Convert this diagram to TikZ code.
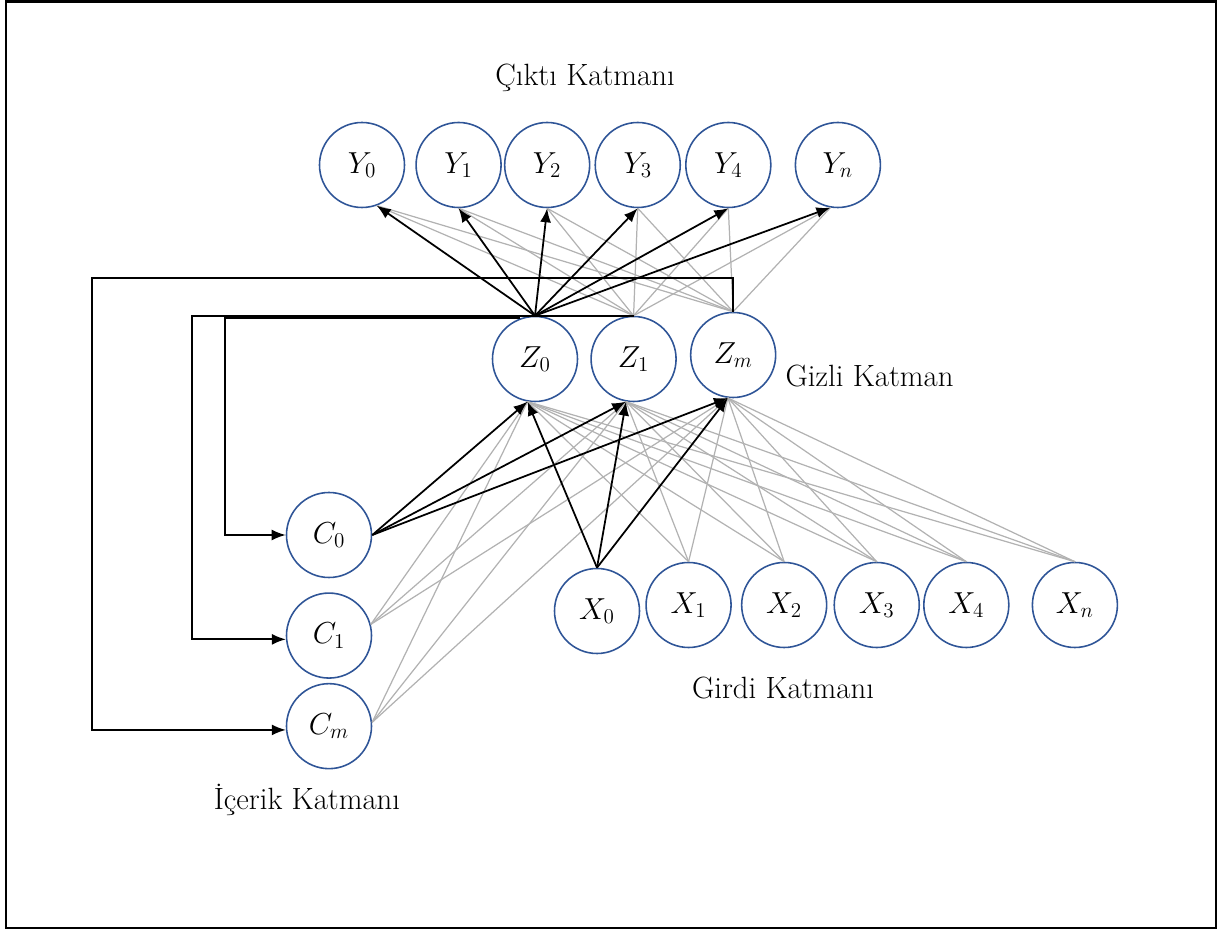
\documentclass[tikz,border=0pt]{standalone}
\usepackage{tikz}
\usetikzlibrary{
	arrows.meta,positioning,calc
}
\definecolor{nodeblue}{RGB}{47,85,151}
\tikzset{
	>={Latex[length=2.8mm,width=2.2mm]},
	neuron/.style={
		circle, minimum size=1.7cm, inner sep=0pt,
		draw=nodeblue, line width=0.9pt
	},
	%
	weight/.style={
		draw=black!30, line width=0.7pt
	},
	%
	mainweight/.style={
		->, draw=black, line width=1pt
	},
	%
	feedback/.style={
		->, draw=black, line width=1pt
	}
}

\begin{document}
\begin{tikzpicture}[font=\fontsize{17.5}{21}\selectfont]
    \useasboundingbox (0,0) rectangle (24.64,-18.66);
    \draw[line width=1.5pt] (0.12,-0.03) rectangle (24.32,-18.56);
    % output layer
    \node(Y0)[neuron] at (7.24,-3.30){$Y_0$};
    \node(Y1)[neuron, right=0.20cm of Y0]{$Y_1$};
    \node(Y2)[neuron, right=0.04cm of Y1]{$Y_2$};
    \node(Y3)[neuron, right=0.08cm of Y2]{$Y_3$};
    \node(Y4)[neuron, right=0.08cm of Y3]{$Y_4$};
    \node(Yn)[neuron, right=0.46cm of Y4]{$Y_n$};
    \node(outlbl) at (11.70,-1.56){Çıktı Katmanı};
    % hidden layer
    \node(Z0)[neuron] at (10.70,-7.18){$Z_0$};
    \node(Z1)[neuron, right=0.24cm of Z0]{$Z_1$};
    \node(Zm)[neuron, right=0.26cm of Z1, yshift=0.08cm]{$Z_m$};
    \node(hidlbl)[right=0.06cm of Zm, yshift=-0.42cm]{Gizli Katman};
    % context layer
    \node(C0)[neuron] at (6.58,-10.70){$C_0$};
    \node(C1)[neuron, below=0.28cm of C0]{$C_1$};
    \node(Cm)[neuron, below=0.08cm of C1]{$C_m$};
    \node(ctxlbl) at (6.14,-16.00){İçerik Katmanı};
    % input layer
    \node(X0)[neuron] at (11.94,-12.22){$X_0$};
    \node(X1)[neuron, right=0.10cm of X0, yshift=0.12cm]{$X_1$};
    \node(X2)[neuron, right=0.18cm of X1]{$X_2$};
    \node(X3)[neuron, right=0.12cm of X2]{$X_3$};
    \node(X4)[neuron, right=0.06cm of X3]{$X_4$};
    \node(Xn)[neuron, right=0.44cm of X4]{$X_n$};
    \node(inlbl) at (15.66,-13.76){Girdi Katmanı};

    % hidden -> output
    \foreach \y/\a in {Y0/-70,Y1/-90,Y2/-90,Y3/-90,Y4/-90,Yn/-100}{
        \draw[weight] (Z1.north) -- (\y.\a);
        \draw[weight] (Zm.north) -- (\y.\a);
    }
    \foreach \y/\a in {Y0/-70,Y1/-90,Y2/-90,Y3/-90,Y4/-90,Yn/-100}
        \draw[mainweight] (Z0.north) -- (\y.\a);

    % input and context -> hidden
    \foreach \z/\a in {Z0/-100,Z1/-100,Zm/-97}{
        \foreach \x in {X1,X2,X3,X4,Xn}
            \draw[weight] (\x.north) -- (\z.\a);
        \draw[weight] (C1.15) -- (\z.\a);
        \draw[weight] (Cm.5) -- (\z.\a);
    }
    \foreach \z/\a in {Z0/-100,Z1/-100,Zm/-97}{
        \draw[mainweight] (C0.east) -- (\z.\a);
        \draw[mainweight] (X0.north) -- (\z.\a);
    }

    % hidden state copied back into the context units
    \coordinate(fbm) at (1.84,-5.56);
    \coordinate(fb1) at (3.84,-6.30);
    \coordinate(fb0) at (4.50,-6.40);
    \draw[feedback] (Zm.north) |- (fbm) |- (Cm.185);
    \draw[feedback] (Z1.north) -- (Z1.north -| fb1) |- (C1.185);
    \draw[feedback] (Z0.110) -- (Z0.110 -| fb0) |- (C0.west);
\end{tikzpicture}
\end{document}
